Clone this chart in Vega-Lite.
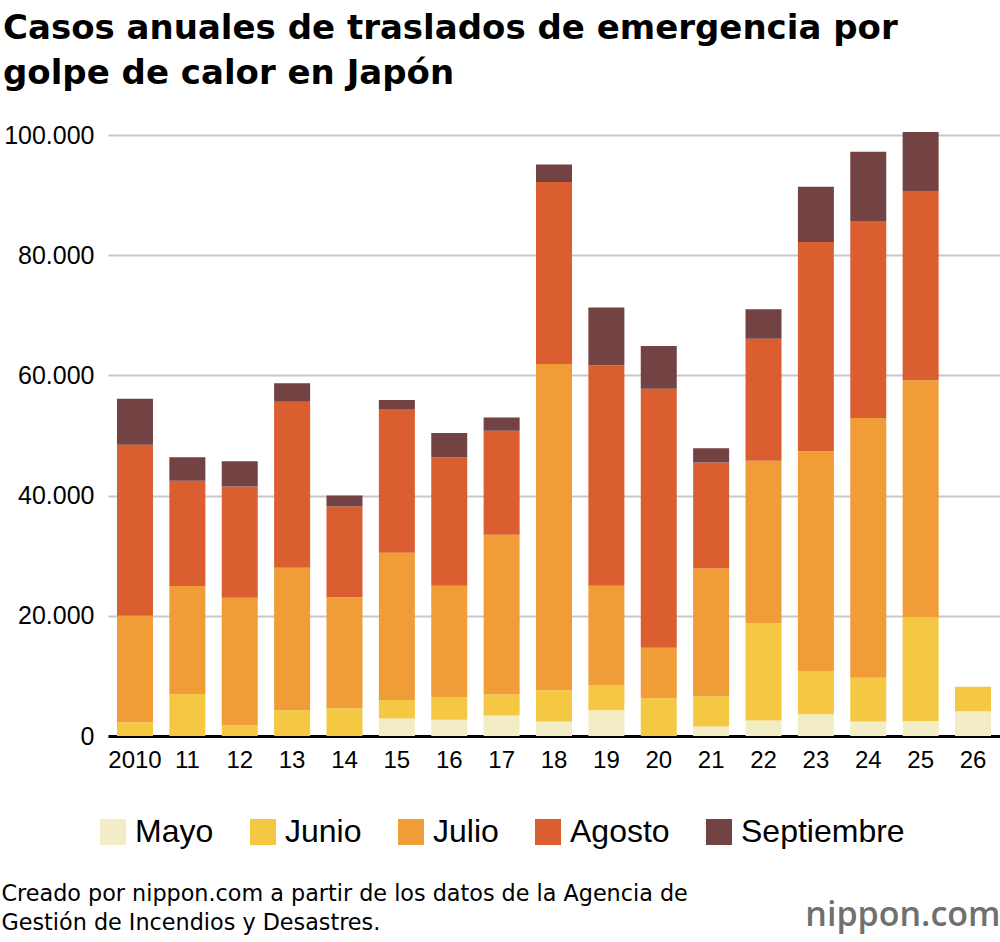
{
  "$schema": "https://vega.github.io/schema/vega-lite/v6.json",
  "autosize": "none",
  "width": 892,
  "height": 631,
  "padding": {"left": 108, "top": 105, "right": 0, "bottom": 206},
  "background": "white",
  "title": {
    "text": ["Casos anuales de traslados de emergencia por", "golpe de calor en Japón"],
    "anchor": "start",
    "frame": "group",
    "dx": -105,
    "offset": 14,
    "font": "DejaVu Sans",
    "fontSize": 34,
    "fontWeight": "bold",
    "lineHeight": 45,
    "color": "black"
  },
  "data": {
    "values": [
      {"anio": "2010", "Mayo": 0, "Junio": 2276, "Julio": 17750, "Agosto": 28448, "Septiembre": 7645},
      {"anio": "11", "Mayo": 0, "Junio": 6980, "Julio": 18000, "Agosto": 17500, "Septiembre": 3900},
      {"anio": "12", "Mayo": 0, "Junio": 1800, "Julio": 21200, "Agosto": 18500, "Septiembre": 4200},
      {"anio": "13", "Mayo": 0, "Junio": 4300, "Julio": 23700, "Agosto": 27600, "Septiembre": 3100},
      {"anio": "14", "Mayo": 0, "Junio": 4600, "Julio": 18500, "Agosto": 15100, "Septiembre": 1800},
      {"anio": "15", "Mayo": 2900, "Junio": 3100, "Julio": 24500, "Agosto": 23900, "Septiembre": 1500},
      {"anio": "16", "Mayo": 2700, "Junio": 3700, "Julio": 18600, "Agosto": 21400, "Septiembre": 4000},
      {"anio": "17", "Mayo": 3400, "Junio": 3500, "Julio": 26600, "Agosto": 17300, "Septiembre": 2200},
      {"anio": "18", "Mayo": 2400, "Junio": 5200, "Julio": 54300, "Agosto": 30300, "Septiembre": 2900},
      {"anio": "19", "Mayo": 4300, "Junio": 4200, "Julio": 16500, "Agosto": 36700, "Septiembre": 9600},
      {"anio": "20", "Mayo": 0, "Junio": 6300, "Julio": 8400, "Agosto": 43100, "Septiembre": 7100},
      {"anio": "21", "Mayo": 1600, "Junio": 5000, "Julio": 21300, "Agosto": 17600, "Septiembre": 2400},
      {"anio": "22", "Mayo": 2600, "Junio": 16100, "Julio": 27100, "Agosto": 20300, "Septiembre": 4900},
      {"anio": "23", "Mayo": 3600, "Junio": 7200, "Julio": 36600, "Agosto": 34800, "Septiembre": 9200},
      {"anio": "24", "Mayo": 2400, "Junio": 7300, "Julio": 43200, "Agosto": 32800, "Septiembre": 11500},
      {"anio": "25", "Mayo": 2500, "Junio": 17300, "Julio": 39400, "Agosto": 31500, "Septiembre": 9800},
      {"anio": "26", "Mayo": 4100, "Junio": 4100, "Julio": 0, "Agosto": 0, "Septiembre": 0}
    ]
  },
  "transform": [
    {"fold": ["Mayo", "Junio", "Julio", "Agosto", "Septiembre"], "as": ["mes", "casos"]},
    {"window": [{"op": "row_number", "as": "orden"}]}
  ],
  "mark": {"type": "bar", "width": 36},
  "encoding": {
    "x": {
      "field": "anio",
      "type": "nominal",
      "sort": null,
      "scale": {"paddingInner": 0.31, "paddingOuter": 0.17},
      "axis": {
        "title": ["Creado por nippon.com a partir de los datos de la Agencia de", "Gestión de Incendios y Desastres."],
        "titleX": -107,
        "titleY": 164,
        "titleAlign": "left",
        "titleAnchor": "start",
        "titleBaseline": "alphabetic",
        "titleFont": "DejaVu Sans",
        "titleFontSize": 22.3,
        "titleFontWeight": "normal",
        "titleLineHeight": 29,
        "titleColor": "black",
        "labelAngle": 0,
        "labelFont": "Liberation Sans",
        "labelFontSize": 24,
        "labelColor": "black",
        "labelPadding": 12,
        "ticks": false,
        "domainColor": "black",
        "domainWidth": 3,
        "grid": false
      }
    },
    "y": {
      "field": "casos",
      "type": "quantitative",
      "stack": "zero",
      "scale": {"domain": [0, 105000], "nice": false},
      "axis": {
        "values": [0, 20000, 40000, 60000, 80000, 100000],
        "labelExpr": "replace(format(datum.value, ','), ',', '.')",
        "labelFont": "Liberation Sans",
        "labelFontSize": 25,
        "labelColor": "black",
        "labelPadding": 14,
        "ticks": false,
        "domain": false,
        "gridColor": "#c8c8c8",
        "gridWidth": 2,
        "title": "nippon.com",
        "titleAngle": 0,
        "titleAlign": "right",
        "titleBaseline": "alphabetic",
        "titleX": 892,
        "titleY": 820,
        "titleFont": "Open Sans",
        "titleFontSize": 34,
        "titleFontWeight": 600,
        "titleColor": "#707070"
      }
    },
    "color": {
      "field": "mes",
      "type": "nominal",
      "sort": ["Mayo", "Junio", "Julio", "Agosto", "Septiembre"],
      "scale": {
        "domain": ["Mayo", "Junio", "Julio", "Agosto", "Septiembre"],
        "range": ["#f2edc5", "#f4c842", "#f09d38", "#db5e31", "#734243"]
      },
      "legend": {
        "title": null,
        "orient": "none",
        "direction": "horizontal",
        "legendX": -11,
        "legendY": 711,
        "symbolType": "square",
        "symbolSize": 676,
        "symbolStrokeWidth": 0,
        "symbolOpacity": 1,
        "labelFont": "Liberation Sans",
        "labelFontSize": 32,
        "labelColor": "black",
        "labelOffset": 6,
        "columnPadding": 33,
        "labelLimit": 400
      }
    },
    "order": {"field": "orden", "type": "quantitative"}
  },
  "config": {"view": {"stroke": null}}
}
